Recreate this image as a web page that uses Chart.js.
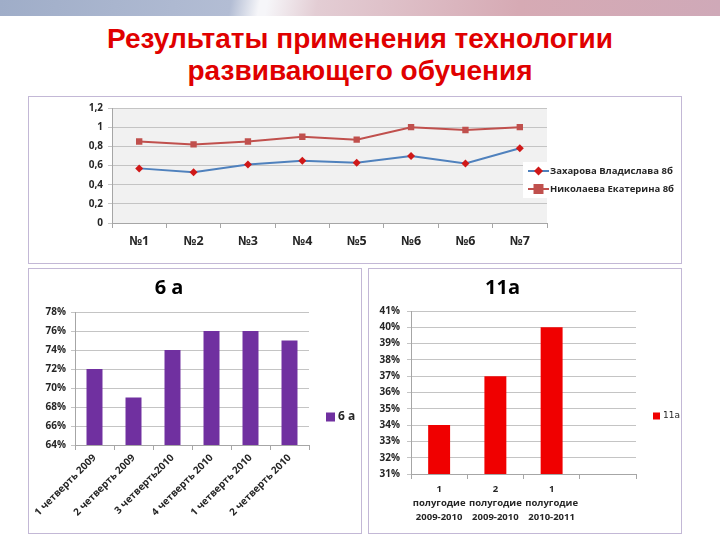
<!DOCTYPE html>
<html>
<head>
<meta charset="utf-8">
<script src="https://cdn.jsdelivr.net/npm/chart.js@4.4.1/dist/chart.umd.min.js"></script>
<style>
  html, body { margin: 0; padding: 0; background: #fff; }
  #page { position: relative; width: 720px; height: 540px; overflow: hidden; background: #fff; }
  #banner {
    position: absolute; left: 0; top: 0; width: 720px; height: 16px;
    background: linear-gradient(100deg, #9fadc8 0%, #b3bdd4 32%, #f6f6f9 36%, #f6f6f9 37%, #e3cdd4 44%, #d6aab4 72%, #cfa9b8 100%);
  }
  #title {
    position: absolute; left: 0; top: 23px; width: 720px; text-align: center;
    font-family: "Liberation Sans", Arial, sans-serif; font-weight: bold;
    font-size: 28px; line-height: 32px; color: #e00000;
  }
  .box { position: absolute; border: 1px solid #c3b8d6; background: #fff; }
  .box canvas { position: absolute; left: 0; top: 0; }
</style>
</head>
<body>
<div id="page">
  <div id="banner"></div>
  <div id="title">Результаты применения технологии<br>развивающего обучения</div>
  <div class="box" style="left:28px; top:96px; width:652px; height:166px;"><canvas id="chart-lines" width="652" height="166"></canvas></div>
  <div class="box" style="left:28px; top:268px; width:332px; height:264px;"><canvas id="chart-6a" width="332" height="264"></canvas></div>
  <div class="box" style="left:368px; top:268px; width:312px; height:264px;"><canvas id="chart-11a" width="312" height="264"></canvas></div>
</div>
<script>
// ── Data ──────────────────────────────────────────────────────────────────────
const TOP_CATS      = ['№1', '№2', '№3', '№4', '№5', '№6', '№6', '№7'];
const ZAKHAROVA     = [0.57, 0.53, 0.61, 0.65, 0.63, 0.70, 0.62, 0.78];
const NIKOLAEVA     = [0.85, 0.82, 0.85, 0.90, 0.87, 1.00, 0.97, 1.00];
const TOP_Y_TICKS   = ['0', '0,2', '0,4', '0,6', '0,8', '1', '1,2'];

const CLASS6_CATS   = ['1 четверть 2009', '2 четверть 2009', '3 четверть2010',
                       '4 четверть 2010', '1 четверть 2010', '2 четверть 2010'];
const CLASS6_VALUES = [72, 69, 74, 76, 76, 75];

const CLASS11_CATS   = [['1', 'полугодие', '2009-2010'],
                        ['2', 'полугодие', '2009-2010'],
                        ['1', 'полугодие', '2010-2011'], ''];
const CLASS11_VALUES = [34, 37, 40, null];

const TXT  = '#262626';
const GRID = '#c4c4c4';
const FONT = '"Open Sans", "DejaVu Sans", sans-serif';

// ── Plugins ───────────────────────────────────────────────────────────────────
// light gray plot background (drawn under the grid)
const plotBg = {
  id: 'plotBg',
  beforeDraw(chart, args, opts) {
    if (!opts.color) return;
    const a = chart.chartArea;
    chart.ctx.save();
    chart.ctx.fillStyle = opts.color;
    chart.ctx.fillRect(a.left, a.top, a.right - a.left, a.bottom - a.top);
    chart.ctx.restore();
  }
};

function marker(ctx, style, x, y, r, color) {
  ctx.fillStyle = color;
  ctx.beginPath();
  if (style === 'rectRot') {
    ctx.moveTo(x, y - r); ctx.lineTo(x + r, y); ctx.lineTo(x, y + r); ctx.lineTo(x - r, y);
    ctx.closePath();
  } else {
    ctx.rect(x - r, y - r, r * 2, r * 2);
  }
  ctx.fill();
}

// legend placed like the Excel one
const sideLegend = {
  id: 'sideLegend',
  afterDraw(chart, args, o) {
    if (!o.x) return;
    const ctx = chart.ctx;
    ctx.save();
    if (o.bg) { ctx.fillStyle = '#fff'; ctx.fillRect(o.bg[0], o.bg[1], o.bg[2], o.bg[3]); }
    ctx.font = o.font;
    ctx.textBaseline = 'middle';
    chart.data.datasets.forEach((ds, i) => {
      const y = o.y + i * (o.gap || 0);
      let tx;
      if (o.line) {
        ctx.strokeStyle = ds.borderColor; ctx.lineWidth = 2;
        ctx.beginPath(); ctx.moveTo(o.x, y); ctx.lineTo(o.x + o.line, y); ctx.stroke();
        marker(ctx, ds.pointStyle, o.x + o.line / 2, y, ds.pointRadius + 0.5, ds.pointBackgroundColor);
        tx = o.x + o.line + 1;
      } else {
        ctx.fillStyle = ds.backgroundColor;
        ctx.fillRect(o.x, y - o.box / 2, o.box, o.box);
        tx = o.x + o.box + 3;
      }
      ctx.fillStyle = o.color || TXT;
      ctx.fillText(ds.label, tx, y);
    });
    ctx.restore();
  }
};

Chart.register(plotBg, sideLegend);

// ── Line chart — two students ─────────────────────────────────────────────────
new Chart(document.getElementById('chart-lines'), {
  type: 'line',
  data: {
    labels: TOP_CATS,
    datasets: [
      { label: 'Захарова Владислава 8б', data: ZAKHAROVA,
        borderColor: '#4f81bd', borderWidth: 2, tension: 0,
        pointStyle: 'rectRot', pointRadius: 4, pointBackgroundColor: '#d01818', pointBorderWidth: 0 },
      { label: 'Николаева Екатерина 8б', data: NIKOLAEVA,
        borderColor: '#c0504d', borderWidth: 2, tension: 0,
        pointStyle: 'rect', pointRadius: 4.5, pointBackgroundColor: '#c0504d', pointBorderWidth: 0 }
    ]
  },
  options: {
    responsive: false, animation: false, events: [],
    layout: { padding: { left: 0, top: 5, right: 134, bottom: 0 } },
    plugins: {
      legend: { display: false }, tooltip: { enabled: false },
      plotBg: { color: '#f1f1f1' },
      sideLegend: { x: 499, y: 74, gap: 18, line: 21, bg: [494, 65, 157, 36],
                    font: 'bold 9.5px ' + FONT }
    },
    scales: {
      x: {
        offset: true,
        grid: { offset: true, drawOnChartArea: false, tickLength: 5, color: '#a6a6a6' },
        border: { color: '#a6a6a6' },
        ticks: { padding: 6, color: TXT, font: { family: FONT, size: 12.5, weight: 'bold' } },
        afterFit: s => { s.height = 40; }
      },
      y: {
        min: 0, max: 1.2,
        grid: { color: GRID, tickLength: 4 },
        border: { color: '#a6a6a6' },
        ticks: { stepSize: 0.2, padding: 5, color: TXT,
                 font: { family: FONT, size: 10, weight: 'bold' },
                 callback: (v, i) => TOP_Y_TICKS[i] },
        afterFit: s => { s.width = 83; }
      }
    }
  }
});

// ── Bar chart — 6 а ───────────────────────────────────────────────────────────
new Chart(document.getElementById('chart-6a'), {
  type: 'bar',
  data: {
    labels: CLASS6_CATS,
    datasets: [{ label: '6 а', data: CLASS6_VALUES, backgroundColor: '#7030a0',
                 barPercentage: 0.41, categoryPercentage: 1 }]
  },
  options: {
    responsive: false, animation: false, events: [],
    layout: { padding: { left: 0, top: 0, right: 52, bottom: 0 } },
    plugins: {
      legend: { display: false }, tooltip: { enabled: false },
      title: { display: true, text: '6 а', color: '#000',
               font: { family: FONT, size: 20, weight: 'bold' }, padding: { top: 7, bottom: 12 } },
      sideLegend: { x: 297, y: 148, box: 9, font: 'bold 12px ' + FONT }
    },
    scales: {
      x: {
        grid: { offset: true, drawOnChartArea: false, tickLength: 5, color: '#a6a6a6' },
        border: { color: '#a6a6a6' },
        ticks: { minRotation: 45, maxRotation: 45, autoSkip: false, padding: 2, color: TXT,
                 font: { family: FONT, size: 10, weight: 'bold' } },
        afterFit: s => { s.height = 88; }
      },
      y: {
        min: 64, max: 78,
        grid: { color: GRID, tickLength: 4 },
        border: { color: '#a6a6a6' },
        ticks: { stepSize: 2, padding: 5, color: TXT,
                 font: { family: FONT, size: 10, weight: 'bold' },
                 callback: v => v + '%' },
        afterFit: s => { s.width = 46; }
      }
    }
  }
});

// ── Bar chart — 11а ───────────────────────────────────────────────────────────
new Chart(document.getElementById('chart-11a'), {
  type: 'bar',
  data: {
    labels: CLASS11_CATS,
    datasets: [{ label: '11а', data: CLASS11_VALUES, backgroundColor: '#f00000',
                 barPercentage: 0.39, categoryPercentage: 1 }]
  },
  options: {
    responsive: false, animation: false, events: [],
    layout: { padding: { left: 0, top: 0, right: 45, bottom: 0 } },
    plugins: {
      legend: { display: false }, tooltip: { enabled: false },
      title: { display: true, text: '11а', color: '#000',
               font: { family: FONT, size: 20, weight: 'bold' }, padding: { top: 7, bottom: 11 } },
      sideLegend: { x: 284, y: 147, box: 7, font: '9px "DejaVu Sans", sans-serif' }
    },
    scales: {
      x: {
        grid: { offset: true, drawOnChartArea: false, tickLength: 5, color: '#a6a6a6' },
        border: { color: '#a6a6a6' },
        ticks: { maxRotation: 0, autoSkip: false, padding: 3, color: TXT,
                 font: { family: FONT, size: 9.5, weight: 'bold', lineHeight: 1.47 } },
        afterFit: s => { s.height = 59; }
      },
      y: {
        min: 31, max: 41,
        grid: { color: GRID, tickLength: 4 },
        border: { color: '#a6a6a6' },
        ticks: { stepSize: 1, padding: 7, color: TXT,
                 font: { family: FONT, size: 10, weight: 'bold' },
                 callback: v => v + '%' },
        afterFit: s => { s.width = 42; }
      }
    }
  }
});
</script>
</body>
</html>
